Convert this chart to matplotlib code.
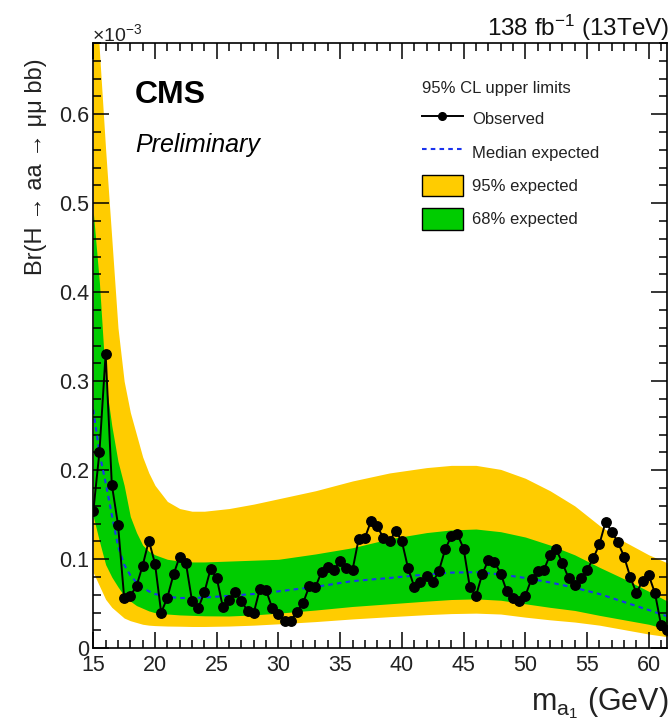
import matplotlib
matplotlib.use("Agg")
import matplotlib.pyplot as plt
from matplotlib.lines import Line2D
from matplotlib.patches import Patch
from matplotlib.ticker import MultipleLocator, FuncFormatter

plt.rcParams['font.family'] = ['Liberation Sans', 'DejaVu Sans']
plt.rcParams['mathtext.fontset'] = 'custom'
plt.rcParams['mathtext.rm'] = 'Liberation Sans'
plt.rcParams['mathtext.it'] = 'Liberation Sans:italic'
plt.rcParams['mathtext.bf'] = 'Liberation Sans:bold'

# ---------------- data (Br in units of 1e-3) ----------------
mass_obs = [15.0, 15.5, 16.0, 16.5, 17.0, 17.5, 18.0, 18.5, 19.0, 19.5,
            20.0, 20.5, 21.0, 21.5, 22.0, 22.5, 23.0, 23.5, 24.0, 24.5,
            25.0, 25.5, 26.0, 26.5, 27.0, 27.5, 28.0, 28.5, 29.0, 29.5,
            30.0, 30.5, 31.0, 31.5, 32.0, 32.5, 33.0, 33.5, 34.0, 34.5,
            35.0, 35.5, 36.0, 36.5, 37.0, 37.5, 38.0, 38.5, 39.0, 39.5,
            40.0, 40.5, 41.0, 41.5, 42.0, 42.5, 43.0, 43.5, 44.0, 44.5,
            45.0, 45.5, 46.0, 46.5, 47.0, 47.5, 48.0, 48.5, 49.0, 49.5,
            50.0, 50.5, 51.0, 51.5, 52.0, 52.5, 53.0, 53.5, 54.0, 54.5,
            55.0, 55.5, 56.0, 56.5, 57.0, 57.5, 58.0, 58.5, 59.0, 59.5,
            60.0, 60.5, 61.0, 61.5]
br_observed = [0.154, 0.221, 0.331, 0.184, 0.139, 0.057, 0.059, 0.070, 0.093, 0.121,
               0.095, 0.040, 0.057, 0.083, 0.103, 0.096, 0.053, 0.045, 0.063, 0.089,
               0.079, 0.046, 0.054, 0.063, 0.053, 0.042, 0.040, 0.067, 0.065, 0.045,
               0.038, 0.031, 0.031, 0.041, 0.051, 0.070, 0.069, 0.086, 0.091, 0.088,
               0.098, 0.090, 0.088, 0.123, 0.124, 0.143, 0.137, 0.124, 0.120, 0.132,
               0.120, 0.090, 0.069, 0.075, 0.081, 0.074, 0.087, 0.111, 0.126, 0.128,
               0.112, 0.069, 0.059, 0.083, 0.099, 0.097, 0.084, 0.064, 0.056, 0.053,
               0.059, 0.078, 0.087, 0.088, 0.105, 0.111, 0.096, 0.079, 0.071, 0.079,
               0.088, 0.101, 0.117, 0.142, 0.131, 0.119, 0.103, 0.080, 0.062, 0.076,
               0.082, 0.062, 0.026, 0.020]

mass_exp = [15.0, 15.5, 16.0, 16.5, 17.0, 17.5, 18.0, 18.5, 19.0, 19.5,
            20.0, 21.0, 22.0, 23.0, 24.0, 26.0, 28.0, 30.0, 33.0, 36.0,
            39.0, 42.0, 44.0, 46.0, 48.0, 50.0, 52.0, 54.0, 56.0, 58.0,
            60.0, 61.5]
exp_up95 = [0.800, 0.670, 0.560, 0.460, 0.360, 0.300, 0.265, 0.240, 0.215, 0.197,
            0.183, 0.165, 0.157, 0.154, 0.154, 0.157, 0.162, 0.168, 0.177, 0.188,
            0.197, 0.203, 0.2055, 0.2055, 0.201, 0.191, 0.177, 0.160, 0.138, 0.120,
            0.105, 0.096]
exp_up68 = [0.490, 0.410, 0.300, 0.250, 0.210, 0.183, 0.148, 0.130, 0.116, 0.109,
            0.105, 0.100, 0.098, 0.097, 0.097, 0.098, 0.099, 0.100, 0.106, 0.113,
            0.123, 0.130, 0.133, 0.134, 0.131, 0.125, 0.116, 0.105, 0.091, 0.078,
            0.064, 0.053]
exp_median = [0.268, 0.219, 0.186, 0.150, 0.115, 0.094, 0.082, 0.074, 0.068, 0.064,
              0.061, 0.058, 0.0565, 0.0565, 0.057, 0.059, 0.061, 0.064, 0.069, 0.0755,
              0.079, 0.083, 0.085, 0.0855, 0.083, 0.079, 0.074, 0.068, 0.061, 0.052,
              0.043, 0.036]
exp_lo68 = [0.148, 0.120, 0.094, 0.080, 0.069, 0.059, 0.053, 0.048, 0.045, 0.042,
            0.040, 0.0385, 0.0375, 0.037, 0.0365, 0.0363, 0.0375, 0.0395, 0.043, 0.047,
            0.050, 0.053, 0.0548, 0.0555, 0.054, 0.050, 0.046, 0.0425, 0.037, 0.032,
            0.027, 0.0214]
exp_lo95 = [0.085, 0.070, 0.055, 0.046, 0.040, 0.034, 0.031, 0.029, 0.027, 0.026,
            0.0255, 0.025, 0.0248, 0.0245, 0.0245, 0.025, 0.026, 0.0275, 0.030, 0.033,
            0.0355, 0.0378, 0.039, 0.0395, 0.0385, 0.035, 0.032, 0.0295, 0.026, 0.021,
            0.016, 0.013]

legend_labels = ["Observed", "Median expected", "95% expected", "68% expected"]

# ---------------- figure ----------------
W, H = 671, 724
fig = plt.figure(figsize=(W / 100, H / 100), dpi=100)
L, R, T, B = 93.3, 667.3, 43.0, 648.3
ax = fig.add_axes([L / W, 1 - B / H, (R - L) / W, (B - T) / H])

c95 = '#ffcc00'
c68 = '#00cc00'
cmed = '#1a33ee'

ax.fill_between(mass_exp, exp_lo95, exp_up95, color=c95, linewidth=0)
ax.fill_between(mass_exp, exp_lo68, exp_up68, color=c68, linewidth=0)
ax.plot(mass_exp, exp_median, color=cmed, linestyle=(0, (2.2, 2.0)), linewidth=1.5)
ax.plot(mass_obs, br_observed, color='black', linewidth=1.4, marker='o',
        markersize=6.8, markerfacecolor='black', markeredgecolor='black')

ax.set_xlim(15, 61.5)
ax.set_ylim(0, 0.68)

ax.xaxis.set_major_locator(MultipleLocator(5))
ax.xaxis.set_minor_locator(MultipleLocator(1))
ax.yaxis.set_major_locator(MultipleLocator(0.1))
ax.yaxis.set_minor_locator(MultipleLocator(0.02))
ax.yaxis.set_major_formatter(FuncFormatter(lambda v, p: '0' if abs(v) < 1e-9 else f'{v:.1f}'))
ax.xaxis.set_major_formatter(FuncFormatter(lambda v, p: f'{v:.0f}'))

ax.tick_params(which='both', direction='in', top=True, right=True, width=1.1, colors='black')
ax.tick_params(which='major', length=11.5)
ax.tick_params(which='minor', length=5.8)
ax.tick_params(axis='x', which='major', labelsize=15.5, pad=5)
ax.tick_params(axis='y', which='major', labelsize=15.5, pad=3)
for s in ax.spines.values():
    s.set_linewidth(1.2)
for lbl in ax.get_xticklabels() + ax.get_yticklabels():
    lbl.set_color('#222222')

# texts (figure pixel placement)
def fx(px):
    return px / W

def fy(py):
    return 1 - py / H

fig.text(fx(92), fy(41), r'$\times$10$^{-3}$', fontsize=14, ha='left', va='baseline', color='#222222')
fig.text(fx(669), fy(36), r'138 fb$^{-1}$ (13TeV)', fontsize=17.5, ha='right', va='baseline', color='#111111')
fig.text(fx(135), fy(103), 'CMS', fontsize=23, fontweight='bold', ha='left', va='baseline')
fig.text(fx(135), fy(152), 'Preliminary', fontsize=18, fontstyle='italic', ha='left', va='baseline')
fig.text(fx(36), fy(58), 'Br(H \u2192 aa \u2192 \u03bc\u03bc bb)', fontsize=17,
         rotation=90, ha='center', va='top', color='#222222')
fig.text(fx(669), fy(710), r'm$_{\mathrm{a}_{1}}$ (GeV)', fontsize=22, ha='right', va='baseline',
         color='#222222')

handles = [
    Line2D([], [], color='black', linewidth=1.4, marker='o', markersize=5.5),
    Line2D([], [], color=cmed, linestyle=(0, (2.2, 2.0)), linewidth=1.5),
    Patch(facecolor=c95, edgecolor='black', linewidth=1.0),
    Patch(facecolor=c68, edgecolor='black', linewidth=1.0),
]
leg = ax.legend(handles, legend_labels, title='95% CL upper limits', loc='upper left',
                bbox_to_anchor=((422 - L) / (R - L), (B - 81) / (B - T)),
                frameon=False, fontsize=12, title_fontsize=12, handlelength=2.45,
                handleheight=1.6, handletextpad=0.55, labelspacing=0.72,
                borderaxespad=0, borderpad=0, alignment='left')
for t in leg.get_texts():
    t.set_color('#222222')
leg.get_title().set_color('#222222')

fig.savefig('out.png', dpi=100)
